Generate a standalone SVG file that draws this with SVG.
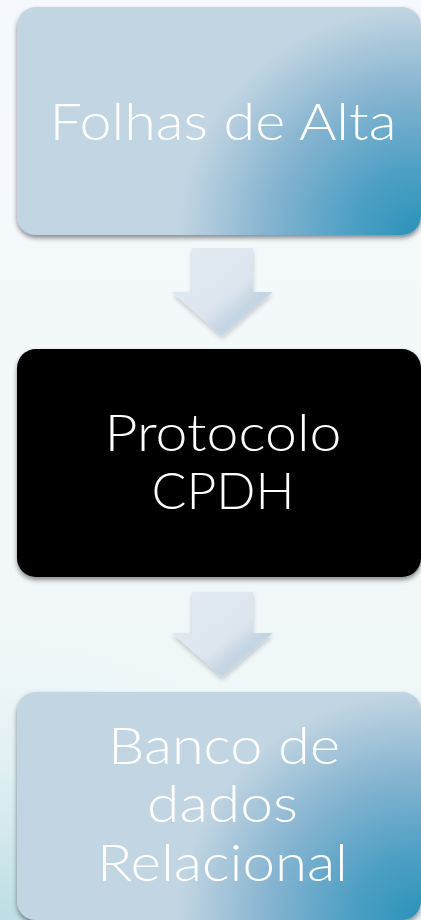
<svg xmlns="http://www.w3.org/2000/svg" width="421" height="920" viewBox="0 0 421 920">
<defs>
<linearGradient id="bg" x1="0" y1="0" x2="0" y2="1">
<stop offset="0" stop-color="#F5F9FD"/>
<stop offset="0.6" stop-color="#F2F8FA"/>
<stop offset="1" stop-color="#EBF5F7"/>
</linearGradient>
<radialGradient id="bgc" gradientUnits="userSpaceOnUse" cx="0" cy="920" r="300">
<stop offset="0" stop-color="#B5DAE1" stop-opacity="0.9"/>
<stop offset="1" stop-color="#E6F2F4" stop-opacity="0"/>
</radialGradient>
<radialGradient id="nodeGrad" cx="1" cy="1" r="1" fx="1" fy="1" gradientTransform="translate(1 1) scale(0.6 1) translate(-1 -1)">
<stop offset="0" stop-color="#2A92BA"/>
<stop offset="0.3" stop-color="#4FA0C5"/>
<stop offset="0.65" stop-color="#88B5D1"/>
<stop offset="1" stop-color="#C2D5E2"/>
</radialGradient>
<linearGradient id="arrGrad" x1="0" y1="0" x2="1" y2="1">
<stop offset="0" stop-color="#E4EBF2"/>
<stop offset="0.55" stop-color="#DCE5EE"/>
<stop offset="0.7" stop-color="#C3D4E2"/>
<stop offset="1" stop-color="#D6E2EC"/>
</linearGradient>
<filter id="sh" x="-10%" y="-10%" width="120%" height="125%">
<feGaussianBlur in="SourceAlpha" stdDeviation="2.5"/>
<feOffset dx="0" dy="3" result="b"/>
<feComponentTransfer><feFuncA type="linear" slope="0.45"/></feComponentTransfer>
<feMerge><feMergeNode/><feMergeNode in="SourceGraphic"/></feMerge>
</filter>
<filter id="ash" x="-20%" y="-20%" width="140%" height="140%">
<feGaussianBlur in="SourceAlpha" stdDeviation="2.5"/>
<feOffset dx="0" dy="3"/>
<feComponentTransfer><feFuncA type="linear" slope="0.2"/></feComponentTransfer>
<feMerge><feMergeNode/><feMergeNode in="SourceGraphic"/></feMerge>
</filter>
</defs>
<style>
.t{font-family:Lato,"Liberation Sans",sans-serif;font-weight:300;font-size:52px;fill:#FFFFFF;text-anchor:middle;}
</style>
<rect x="0" y="0" width="421" height="920" fill="url(#bg)"/>
<rect x="0" y="0" width="421" height="920" fill="url(#bgc)"/>
<g id="connectors">
<path id="arrow1" d="M192 248 H253 V292 H273 L222 336 L172 292 H192 Z" fill="url(#arrGrad)" filter="url(#ash)"/>
<path id="arrow2" d="M192 592 H253 V633 H273 L222 677 L172 633 H192 Z" fill="url(#arrGrad)" filter="url(#ash)"/>
</g>
<g id="node1">
<rect x="17" y="7" width="404" height="228" rx="19" fill="url(#nodeGrad)" filter="url(#sh)"/>
<text class="t" x="223" y="140" textLength="347" lengthAdjust="spacingAndGlyphs">Folhas de Alta</text>
</g>
<g id="node2">
<rect x="17" y="349" width="404" height="228" rx="19" fill="#000000" filter="url(#sh)"/>
<text class="t" x="223" y="451" textLength="237" lengthAdjust="spacingAndGlyphs">Protocolo</text>
<text class="t" x="223" y="509" textLength="143" lengthAdjust="spacingAndGlyphs">CPDH</text>
</g>
<g id="node3">
<rect x="17" y="692" width="404" height="228" rx="19" fill="url(#nodeGrad)" filter="url(#sh)"/>
<text class="t" x="224" y="764" textLength="232" lengthAdjust="spacingAndGlyphs">Banco de</text>
<text class="t" x="222.5" y="822" textLength="151" lengthAdjust="spacingAndGlyphs">dados</text>
<text class="t" x="222.5" y="881" textLength="251" lengthAdjust="spacingAndGlyphs">Relacional</text>
</g>
</svg>
